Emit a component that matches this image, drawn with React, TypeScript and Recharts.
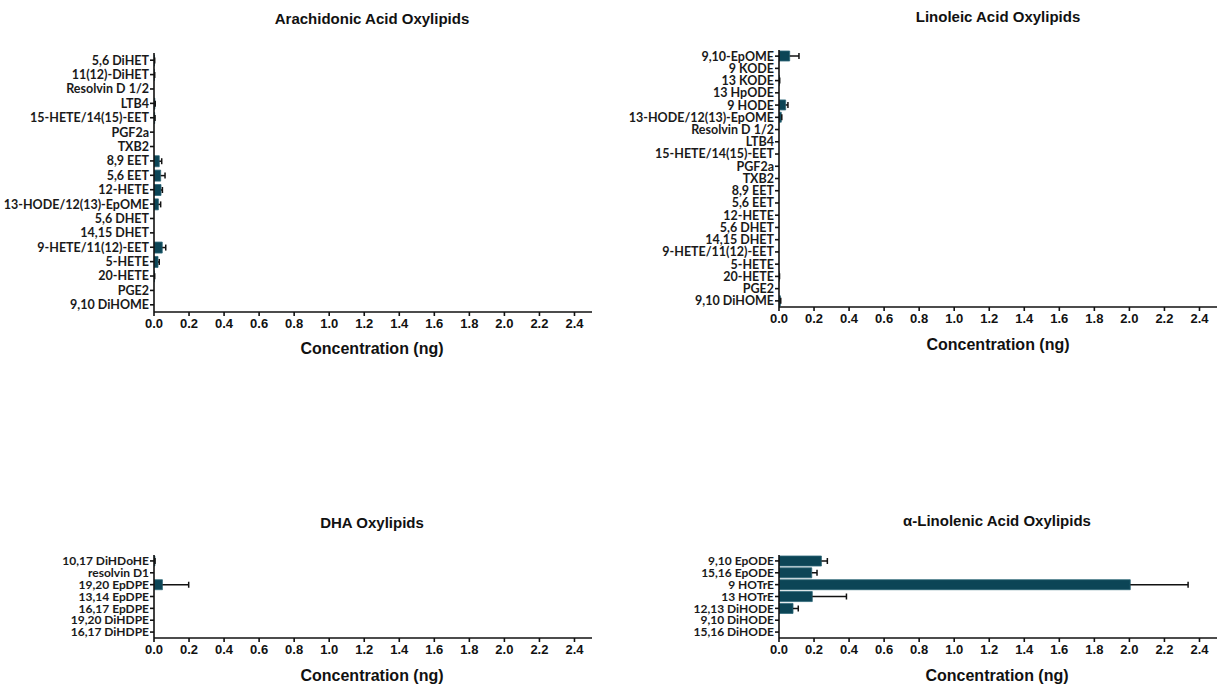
import React from "react";
import { BarChart, Bar, XAxis, YAxis } from "recharts";

// Arachidonic acid panel
const aaNames = [
  "5,6 DiHET", "11(12)-DiHET", "Resolvin D 1/2", "LTB4", "15-HETE/14(15)-EET",
  "PGF2a", "TXB2", "8,9 EET", "5,6 EET", "12-HETE", "13-HODE/12(13)-EpOME",
  "5,6 DHET", "14,15 DHET", "9-HETE/11(12)-EET", "5-HETE", "20-HETE", "PGE2",
  "9,10 DiHOME",
];
const aaMean = [0.003, 0.003, 0, 0.005, 0.004, 0, 0, 0.03, 0.038, 0.04, 0.025, 0, 0, 0.047, 0.023, 0.003, 0, 0];
const aaSd = [0.001, 0.001, 0, 0.002, 0.002, 0, 0, 0.014, 0.025, 0.008, 0.013, 0, 0, 0.02, 0.007, 0.001, 0, 0];

// Linoleic acid panel
const laNames = [
  "9,10-EpOME", "9 KODE", "13 KODE", "13 HpODE", "9 HODE", "13-HODE/12(13)-EpOME",
  "Resolvin D 1/2", "LTB4", "15-HETE/14(15)-EET", "PGF2a", "TXB2", "8,9 EET",
  "5,6 EET", "12-HETE", "5,6 DHET", "14,15 DHET", "9-HETE/11(12)-EET", "5-HETE",
  "20-HETE", "PGE2", "9,10 DiHOME",
];
const laMean = [0.061, 0, 0.003, 0, 0.038, 0.013, 0, 0, 0, 0, 0, 0, 0, 0, 0, 0, 0, 0, 0.002, 0, 0.008];
const laSd = [0.053, 0, 0.001, 0, 0.013, 0.003, 0, 0, 0, 0, 0, 0, 0, 0, 0, 0, 0, 0, 0.001, 0, 0.002];

// DHA panel
const dhaNames = ["10,17 DiHDoHE", "resolvin D1", "19,20 EpDPE", "13,14 EpDPE", "16,17 EpDPE", "19,20 DiHDPE", "16,17 DiHDPE"];
const dhaMean = [0.005, 0, 0.048, 0, 0, 0, 0];
const dhaSd = [0.001, 0, 0.15, 0, 0, 0, 0];

// alpha-linolenic acid panel
const alaNames = ["9,10 EpODE", "15,16 EpODE", "9 HOTrE", "13 HOTrE", "12,13 DiHODE", "9,10 DiHODE", "15,16 DiHODE"];
const alaMean = [0.242, 0.187, 2.005, 0.19, 0.08, 0, 0];
const alaSd = [0.034, 0.03, 0.33, 0.195, 0.03, 0, 0];

const xTicks = [0, 0.2, 0.4, 0.6, 0.8, 1.0, 1.2, 1.4, 1.6, 1.8, 2.0, 2.2, 2.4];

const toRows = (names: string[], mean: number[], sd: number[]) =>
  names.map((name, i) => ({ name, value: mean[i], sd: sd[i] }));

const BAR_FILL = "#0c4556";

// one-sided (upper) error whisker, drawn on a stacked segment sized by the sd
const Whisker = (props: any) => {
  const { x, y, width, height } = props;
  if (!width || width <= 0) return null;
  const cy = y + height / 2;
  return (
    <g>
      <line x1={x} y1={cy} x2={x + width} y2={cy} stroke="#111" strokeWidth={1.5} />
      <line x1={x + width} y1={cy - 3} x2={x + width} y2={cy + 3} stroke="#111" strokeWidth={1.5} />
    </g>
  );
};

interface PanelProps {
  rows: { name: string; value: number; sd: number }[];
  left: number;
  top: number;
  width: number;
  height: number;
  yWidth: number;
  margin: { top: number; right: number; bottom: number; left: number };
  barSize: number;
  labelSize: number;
  title: string;
  titleTop: number;
  titleCenter: number;
  labelTop: number;
}

const Panel: React.FC<PanelProps> = ({
  rows, left, top, width, height, yWidth, margin, barSize, labelSize, title, titleTop, titleCenter, labelTop,
}) => (
  <>
    <div
      style={{
        position: "absolute",
        left: titleCenter - 200,
        width: 400,
        top: titleTop - 10,
        textAlign: "center",
        fontFamily: "'Liberation Sans', Arial, sans-serif",
        fontWeight: "bold",
        fontSize: 15,
        lineHeight: "20px",
        color: "#111",
      }}
    >
      {title}
    </div>
    <div style={{ position: "absolute", left, top }}>
      <BarChart
        width={width}
        height={height}
        data={rows}
        layout="vertical"
        margin={margin}
        barCategoryGap={0}
      >
        <XAxis
          type="number"
          domain={[0, 2.5]}
          ticks={xTicks}
          allowDataOverflow
          tickFormatter={(v: number) => v.toFixed(1)}
          tickSize={4}
          tickMargin={3}
          stroke="#111"
          strokeWidth={1.6}
          tick={{ fontSize: 13, fontWeight: "bold", fill: "#111", fontFamily: "'Liberation Sans', Arial, sans-serif" }}
        />
        <YAxis
          type="category"
          dataKey="name"
          width={yWidth}
          interval={0}
          tickSize={4}
          tickMargin={1}
          stroke="#111"
          strokeWidth={1.6}
          tick={{ fontSize: labelSize, fontWeight: "bold", fill: "#1a1a1a", fontFamily: "Lato, sans-serif" }}
        />
        <Bar
          dataKey="value"
          stackId="s"
          fill={BAR_FILL}
          stroke="#2f6878"
          strokeWidth={0.8}
          barSize={barSize}
          isAnimationActive={false}
        />
        <Bar
          dataKey="sd"
          stackId="s"
          barSize={barSize}
          shape={<Whisker />}
          isAnimationActive={false}
        />
      </BarChart>
    </div>
    <div
      style={{
        position: "absolute",
        left: titleCenter - 200,
        width: 400,
        top: labelTop - 11,
        textAlign: "center",
        fontFamily: "'Liberation Sans', Arial, sans-serif",
        fontWeight: "bold",
        fontSize: 16,
        lineHeight: "22px",
        color: "#111",
      }}
    >
      Concentration (ng)
    </div>
  </>
);

export default function App() {
  return (
    <div
      style={{
        position: "absolute",
        left: 0,
        top: 0,
        width: 1225,
        height: 685,
        background: "#fff",
        overflow: "hidden",
      }}
    >
      <Panel
        rows={toRows(aaNames, aaMean, aaSd)}
        left={0}
        top={0}
        width={612}
        height={370}
        yWidth={154}
        margin={{ top: 53, right: 20, bottom: 28, left: 0 }}
        barSize={11}
        labelSize={12.5}
        title="Arachidonic Acid Oxylipids"
        titleTop={19}
        titleCenter={372}
        labelTop={349}
      />
      <Panel
        rows={toRows(laNames, laMean, laSd)}
        left={612}
        top={0}
        width={613}
        height={370}
        yWidth={167}
        margin={{ top: 50, right: 8, bottom: 33, left: 0 }}
        barSize={10}
        labelSize={12.5}
        title="Linoleic Acid Oxylipids"
        titleTop={17}
        titleCenter={998}
        labelTop={345}
      />
      <Panel
        rows={toRows(dhaNames, dhaMean, dhaSd)}
        left={0}
        top={370}
        width={612}
        height={315}
        yWidth={154}
        margin={{ top: 185, right: 20, bottom: 17, left: 0 }}
        barSize={10}
        labelSize={12}
        title="DHA Oxylipids"
        titleTop={523}
        titleCenter={372}
        labelTop={676}
      />
      <Panel
        rows={toRows(alaNames, alaMean, alaSd)}
        left={612}
        top={370}
        width={613}
        height={315}
        yWidth={167}
        margin={{ top: 185, right: 8, bottom: 17, left: 0 }}
        barSize={10}
        labelSize={12}
        title="α-Linolenic Acid Oxylipids"
        titleTop={521}
        titleCenter={997}
        labelTop={676}
      />
    </div>
  );
}
